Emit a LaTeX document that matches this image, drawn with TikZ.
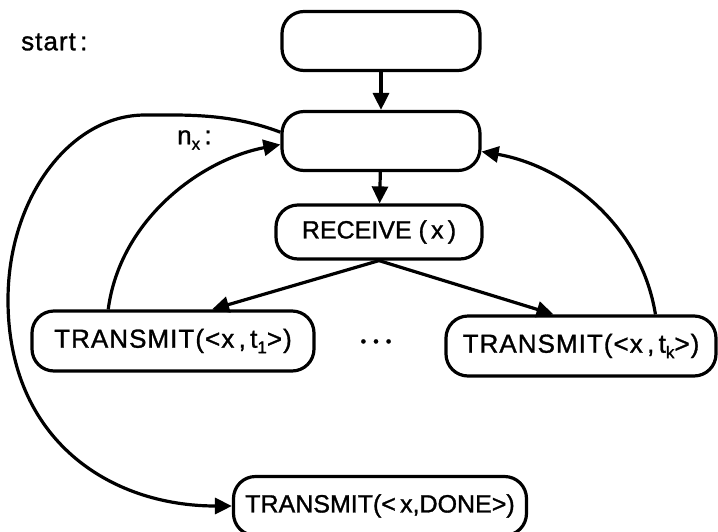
\documentclass[tikz,border=0pt]{standalone}
\usepackage{fontspec}
\setmainfont[LetterSpace=4,FakeBold=1.2]{Liberation Sans}
\newfontfamily\tightfont[LetterSpace=0,FakeBold=1.2]{Liberation Sans}
\usetikzlibrary{arrows.meta}
\newcommand\lowidx[1]{\raisebox{-0.4ex}{\fontsize{17}{17}\selectfont #1}}
\tikzset{
  flow/.style={draw, line width=3.2pt, rounded corners=22pt, inner sep=0pt,
               minimum height=59pt, font=\fontsize{26}{30}\selectfont},
  tight/.style={font=\tightfont\fontsize{25}{30}\selectfont},
  lbl/.style={font=\fontsize{26}{30}\selectfont, inner sep=0pt},
  link/.style={line width=3.2pt, -{Triangle[length=17pt,width=16pt]}}
}
\begin{document}
\begin{tikzpicture}[x=1pt, y=-1pt]
  \useasboundingbox (0,0) rectangle (718,531);

  % states of the flow
  \node[flow, minimum width=198pt] (start) at (381,41) {};
  \node[flow, minimum width=198pt] (nx) at (381,141) {};
  \node[flow, tight, minimum width=206pt, minimum height=54pt] (rec) at (379,232) {RECEIVE (\,x\,)};
  \node[flow, minimum width=282pt, minimum height=60pt] (t1) at (173,341) {TRANSMIT(<x\,,\,t\lowidx{1}>)};
  \node[flow, minimum width=270pt, minimum height=60pt] (tk) at (581,346) {TRANSMIT(<x\,,\,t\lowidx{k}>)};
  \node[flow, tight, minimum width=293pt] (done) at (380,506) {TRANSMIT(<\,x,DONE>)};
  \node[lbl] (dots) at (376,343) {\fontsize{16}{16}\selectfont •\hspace{7pt}•\hspace{7pt}•};

  % labels of the states
  \node[lbl, anchor=west] (lstart) at (21,42) {start\,:};
  \node[lbl, anchor=west] (lnx) at (177,140) {n\lowidx{x}\,:};

  % straight transitions
  \draw[link] (start) -- (nx);
  \draw[link] (nx) -- (rec);
  \draw[link] (rec.south) -- (t1.39);
  \draw[link] (rec.south) -- (tk.131);

  % loops back to n_x
  \draw[link] (t1.154) .. controls (120,220) and (200,160) .. (nx.182);
  \draw[link] (tk.23) .. controls (640,220) and (560,165) .. (nx.354);

  % exit towards DONE
  \draw[link] (nx.175) .. controls (230,113) and (185,115) .. (145,115)
     .. controls (70,115) and (8,198) .. (8,300)
     .. controls (8,440) and (110,506) .. (done.west);
\end{tikzpicture}
\end{document}
